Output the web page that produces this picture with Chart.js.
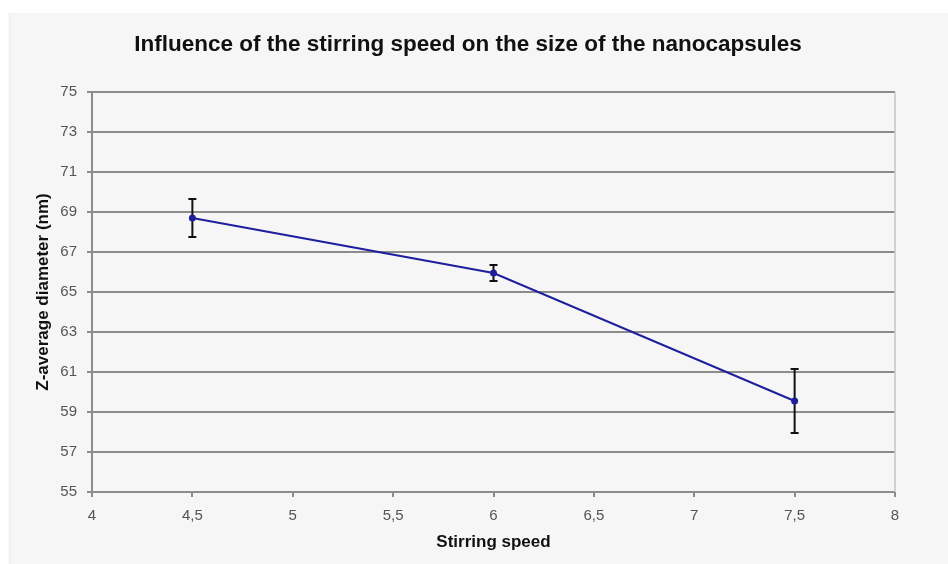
<!DOCTYPE html>
<html>
<head>
<meta charset="utf-8">
<script src="https://cdn.jsdelivr.net/npm/chart.js@4"></script>
<style>
    html, body { margin: 0; padding: 0; background: #fff; }
    #wrap { width: 948px; height: 564px; position: relative; }
</style>
</head>
<body>
<div id="wrap"><canvas id="chart"></canvas></div>
<script>
// data
var speeds = [4.5, 6, 7.5];
var diameters = [68.7, 65.95, 59.55];
var errors = [0.95, 0.4, 1.6];
var yTicks = [55, 57, 59, 61, 63, 65, 67, 69, 71, 73, 75];
var xTicks = [4, 4.5, 5, 5.5, 6, 6.5, 7, 7.5, 8];
var chartTitle = "Influence of the stirring speed on the size of the nanocapsules";

var gridColor = "#8c8c8c";
var labelColor = "#555";
var font = "'Liberation Sans', Arial, sans-serif";

function comma(v) {
    return String(v).replace(".", ",");
}

// panel, title, right border
var panel = {
    id: "panel",
    beforeDraw: function (chart) {
        var ctx = chart.ctx;
        ctx.save();
        ctx.fillStyle = "#f6f6f6";
        ctx.fillRect(8, 13, chart.width - 8, chart.height - 13);
        ctx.strokeStyle = "#ececec";
        ctx.lineWidth = 1;
        ctx.beginPath();
        ctx.moveTo(10.5, 13);
        ctx.lineTo(10.5, chart.height);
        ctx.stroke();
        ctx.fillStyle = "#111";
        ctx.font = "bold 22.5px " + font;
        ctx.textAlign = "center";
        ctx.textBaseline = "middle";
        ctx.fillText(chartTitle, 468, 45);
        ctx.restore();
    },
    beforeDatasetsDraw: function (chart) {
        var ctx = chart.ctx;
        var a = chart.chartArea;
        ctx.save();
        ctx.strokeStyle = "#c4c4c4";
        ctx.lineWidth = 1.5;
        ctx.beginPath();
        ctx.moveTo(a.right, a.top);
        ctx.lineTo(a.right, a.bottom);
        ctx.stroke();
        ctx.restore();
    },
};

// error bars
var errorBars = {
    id: "errorBars",
    beforeDatasetsDraw: function (chart) {
        var ctx = chart.ctx;
        var xs = chart.scales.x;
        var ys = chart.scales.y;
        ctx.save();
        ctx.strokeStyle = "#111";
        ctx.lineWidth = 2;
        speeds.forEach(function (s, i) {
            var x = xs.getPixelForValue(s);
            var top = ys.getPixelForValue(diameters[i] + errors[i]);
            var bot = ys.getPixelForValue(diameters[i] - errors[i]);
            ctx.beginPath();
            ctx.moveTo(x, top);
            ctx.lineTo(x, bot);
            ctx.moveTo(x - 4, top);
            ctx.lineTo(x + 4, top);
            ctx.moveTo(x - 4, bot);
            ctx.lineTo(x + 4, bot);
            ctx.stroke();
        });
        ctx.restore();
    },
};

new Chart("chart", {
    type: "line",
    data: {
        datasets: [
            {
                label: "Z-average",
                data: speeds.map(function (s, i) {
                    return { x: s, y: diameters[i] };
                }),
                borderColor: "#1f1f9c",
                backgroundColor: "#1f1f9c",
                borderWidth: 2,
                pointRadius: 2.5,
                pointHoverRadius: 2.5,
                tension: 0,
            },
        ],
    },
    options: {
        responsive: true,
        maintainAspectRatio: false,
        animation: false,
        layout: { padding: { left: 0, right: 53, top: 92, bottom: 0 } },
        plugins: {
            legend: { display: false },
            tooltip: { enabled: false },
            title: { display: false },
        },
        scales: {
            x: {
                type: "linear",
                min: 4,
                max: 8,
                afterFit: function (scale) {
                    scale.height = 72;
                },
                afterBuildTicks: function (scale) {
                    scale.ticks = xTicks.map(function (v) {
                        return { value: v };
                    });
                },
                ticks: {
                    color: labelColor,
                    font: { family: font, size: 15 },
                    padding: 10,
                    maxRotation: 0,
                    callback: comma,
                },
                grid: {
                    drawOnChartArea: false,
                    drawTicks: true,
                    tickLength: 5,
                    color: gridColor,
                    lineWidth: 2,
                },
                border: { display: false },
                title: {
                    display: true,
                    text: "Stirring speed",
                    color: "#111",
                    font: { family: font, size: 17, weight: "bold" },
                    padding: { top: 0, bottom: 11.5 },
                },
            },
            y: {
                min: 55,
                max: 75,
                afterFit: function (scale) {
                    scale.width = 92;
                },
                afterBuildTicks: function (scale) {
                    scale.ticks = yTicks.map(function (v) {
                        return { value: v };
                    });
                },
                ticks: {
                    color: labelColor,
                    font: { family: font, size: 15 },
                    padding: 10,
                    callback: comma,
                },
                grid: {
                    color: gridColor,
                    lineWidth: 2,
                    tickLength: 5,
                },
                border: { color: gridColor, width: 2 },
                title: {
                    display: true,
                    text: "Z-average diameter (nm)",
                    color: "#111",
                    font: { family: font, size: 17, weight: "bold" },
                    padding: { top: 33, bottom: 0 },
                },
            },
        },
    },
    plugins: [panel, errorBars],
});
</script>
</body>
</html>
